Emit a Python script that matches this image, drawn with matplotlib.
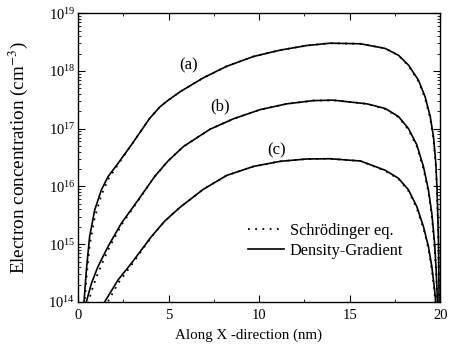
import numpy as np
import matplotlib
matplotlib.use("Agg")
import matplotlib.pyplot as plt
from matplotlib.ticker import MultipleLocator, LogLocator, NullFormatter

plt.rcParams['font.family'] = ['Liberation Serif', 'DejaVu Serif']
plt.rcParams['mathtext.fontset'] = 'stix'

# Position along X (nm) and log10 of electron concentration (cm^-3)
xa = [0.33, 0.46, 0.64, 0.92, 1.29, 1.66, 2.21, 2.95, 3.96, 4.53, 4.97, 5.64, 6.92,
      8.21, 9.69, 11.16, 12.64, 13.92, 15.6, 16.96, 17.70, 18.25, 18.80, 19.17, 19.45,
      19.63, 19.76, 19.82, 19.87, 19.91, 19.93, 19.94]
a_dg = [14.0, 14.55, 15.13, 15.59, 15.94, 16.17, 16.40, 16.72, 17.18, 17.38, 17.49, 17.64, 17.88,
        18.08, 18.25, 18.36, 18.44, 18.48, 18.47, 18.39, 18.27, 18.10, 17.84, 17.55, 17.21,
        16.86, 16.40, 16.00, 15.48, 14.96, 14.38, 14.0]
a_sch = [13.8, 14.40, 14.97, 15.46, 15.85, 16.12, 16.38, 16.72, 17.18, 17.38, 17.49, 17.64, 17.88,
         18.08, 18.25, 18.36, 18.44, 18.48, 18.47, 18.39, 18.27, 18.09, 17.82, 17.52, 17.18,
         16.82, 16.35, 15.95, 15.42, 14.90, 14.30, 13.9]

xb = [0.46, 0.74, 1.10, 1.66, 2.39, 3.31, 4.23, 4.97, 5.82, 7.29, 8.58, 10.06, 11.53, 13.0,
      14.1, 15.95, 16.96, 17.70, 18.25, 18.71, 19.08, 19.35, 19.54, 19.69, 19.78, 19.83, 19.85]
b_dg = [14.0, 14.32, 14.61, 14.96, 15.36, 15.76, 16.17, 16.44, 16.69, 16.99, 17.17, 17.33, 17.43, 17.486,
        17.493, 17.43, 17.35, 17.21, 17.00, 16.72, 16.34, 15.94, 15.53, 15.02, 14.55, 14.15, 14.0]
b_sch = [13.85, 14.18, 14.50, 14.90, 15.33, 15.75, 16.17, 16.44, 16.69, 16.99, 17.17, 17.33, 17.43, 17.486,
         17.493, 17.43, 17.34, 17.20, 16.98, 16.69, 16.30, 15.90, 15.48, 14.96, 14.48, 14.08, 13.9]

xc = [1.47, 2.21, 2.95, 4.05, 4.79, 5.64, 6.92, 8.21, 9.69, 11.16, 12.64, 13.92,
      15.6, 16.96, 17.70, 18.25, 18.71, 19.08, 19.35, 19.54, 19.69, 19.75]
c_dg = [14.0, 14.38, 14.67, 15.13, 15.40, 15.64, 15.95, 16.19, 16.346, 16.434, 16.475, 16.479,
        16.44, 16.28, 16.14, 15.94, 15.65, 15.30, 14.96, 14.61, 14.21, 14.0]
c_sch = [13.9, 14.32, 14.64, 15.12, 15.40, 15.64, 15.95, 16.19, 16.346, 16.434, 16.475, 16.479,
         16.44, 16.27, 16.13, 15.92, 15.62, 15.27, 14.92, 14.56, 14.15, 13.9]

curve_labels = ['(a)', '(b)', '(c)']
label_pos = [(6.1, 18.10), (7.85, 17.38), (10.98, 16.63)]

fig = plt.figure(figsize=(4.51, 3.56), dpi=100)
ax = fig.add_axes([0.173, 0.152, 0.976 - 0.173, 0.963 - 0.152])

dot_style = dict(color='black', lw=1.3, linestyle=(0, (1, 3)))
solid_style = dict(color='black', lw=1.2, linestyle='-')

for x, dg, sch, i in [(xa, a_dg, a_sch, 0), (xb, b_dg, b_sch, 1), (xc, c_dg, c_sch, 2)]:
    x = np.array(x)
    ax.plot(x, 10 ** np.array(sch), label='Schrödinger eq.' if i == 0 else None, **dot_style)
    ax.plot(x, 10 ** np.array(dg), label='Density-Gradient' if i == 0 else None, **solid_style)

for lab, (lx, ly) in zip(curve_labels, label_pos):
    ax.text(lx, 10 ** ly, lab, fontsize=12, ha='center', va='center')

ax.set_yscale('log')
ax.set_xlim(0, 20)
ax.set_ylim(1e14, 1e19)
ax.xaxis.set_major_locator(MultipleLocator(5))
ax.xaxis.set_minor_locator(MultipleLocator(2.5))
ax.yaxis.set_major_locator(LogLocator(base=10, numticks=10))
ax.yaxis.set_minor_locator(LogLocator(base=10, subs=np.arange(2, 10), numticks=20))
ax.yaxis.set_minor_formatter(NullFormatter())

ax.tick_params(which='both', direction='in', top=True, right=True, labelsize=10.5)
ax.tick_params(which='major', length=5, width=0.8)
ax.tick_params(which='minor', length=2.5, width=0.6)
ax.tick_params(axis='y', pad=2)
ax.tick_params(axis='x', pad=5)
for s in ax.spines.values():
    s.set_linewidth(1.0)

ax.set_xlabel('Along X -direction (nm)', fontsize=10.8, va='center')
ax.xaxis.set_label_coords(0.47, -0.114)
ax.set_ylabel('Electron concentration (cm$^{-3}$)', fontsize=13.8, va='center')
ax.yaxis.set_label_coords(-0.166, 0.5)

ax.legend(loc='lower right', bbox_to_anchor=(0.93, 0.11), frameon=False, fontsize=11.8,
          handlelength=2.2, handletextpad=0.35, labelspacing=0.22, borderpad=0.2)

fig.savefig('out.png', dpi=100)
